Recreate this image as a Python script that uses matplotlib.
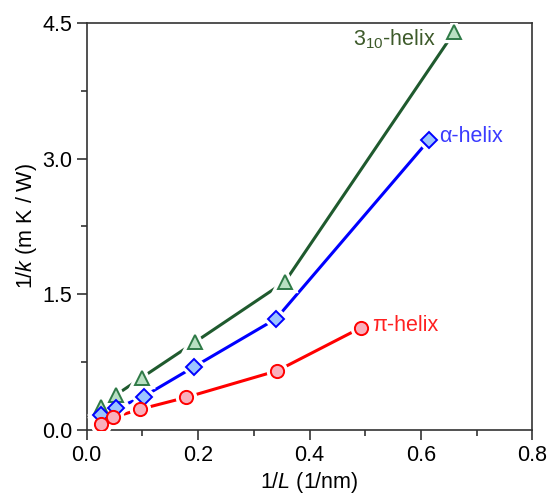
import matplotlib
matplotlib.use("Agg")
import matplotlib.pyplot as plt
from matplotlib.ticker import MultipleLocator

plt.rcParams['font.family'] = ['Liberation Sans', 'DejaVu Sans']
plt.rcParams['mathtext.fontset'] = 'custom'
plt.rcParams['mathtext.rm'] = 'Liberation Sans'
plt.rcParams['mathtext.it'] = 'Liberation Sans:italic'

# 3_10-helix
x_310 = [0.025, 0.053, 0.099, 0.194, 0.356, 0.660]
y_310 = [0.25, 0.39, 0.58, 0.97, 1.64, 4.40]
# alpha-helix
x_alpha = [0.025, 0.053, 0.102, 0.193, 0.340, 0.615]
y_alpha = [0.17, 0.24, 0.37, 0.70, 1.23, 3.21]
# pi-helix
x_pi = [0.025, 0.048, 0.096, 0.178, 0.342, 0.492]
y_pi = [0.07, 0.14, 0.23, 0.36, 0.655, 1.13]

series = [
    (x_310, y_310, '^', 9.5, '#1f5a2e', '#b8e0c2', '#2f7a47'),
    (x_alpha, y_alpha, 'D', 8.5, '#0000ff', '#9cc4ff', '#0000ff'),
    (x_pi, y_pi, 'o', 9.5, '#ff0000', '#f9b0bd', '#ff0000'),
]

fig = plt.figure(figsize=(5.54, 4.96), dpi=100)
ax = fig.add_axes([0.1565, 0.133, 0.8045, 0.821])

for xs, ys, mk, ms, lc, fc, ec in series:
    ax.plot(xs, ys, '-', color=lc, lw=2.2, zorder=2)
    # white halo around markers gives the gap in the line
    ax.plot(xs, ys, mk, ls='none', ms=ms, mfc='white', mec='white', mew=6, zorder=3)
    ax.plot(xs, ys, mk, ls='none', ms=ms, mfc=fc, mec=ec, mew=1.4, zorder=4)

ax.text(0.478, 4.32, '3$_{10}$-helix', color='#3d5a2a', fontsize=15.5, va='center', ha='left')
ax.text(0.632, 3.24, '\u03b1-helix', color='#3b3bff', fontsize=15.5, va='center', ha='left')
ax.text(0.512, 1.15, '\u03c0-helix', color='#ff2020', fontsize=15.5, va='center', ha='left')

ax.set_xlim(0, 0.8)
ax.set_ylim(0, 4.5)
ax.xaxis.set_major_locator(MultipleLocator(0.2))
ax.xaxis.set_minor_locator(MultipleLocator(0.1))
ax.yaxis.set_minor_locator(MultipleLocator(0.75))
ax.set_xticks([0, 0.2, 0.4, 0.6, 0.8])
ax.set_xticklabels(['0.0', '0.2', '0.4', '0.6', '0.8'])
ax.set_yticks([0, 1.5, 3.0, 4.5])
ax.set_yticklabels(['0.0', '1.5', '3.0', '4.5'])

ax.tick_params(which='major', direction='out', length=7, width=1.2, labelsize=15.5, color='#333333')
ax.tick_params(which='minor', direction='out', length=4, width=1.2, color='#333333')
ax.tick_params(top=False, right=False)
for s in ax.spines.values():
    s.set_linewidth(1.2)
    s.set_color('#333333')

ax.set_xlabel('1/$\\it{L}$ (1/nm)', fontsize=15.5, labelpad=3)
ax.set_ylabel('1/$\\it{k}$ (m K / W)', fontsize=15.5, labelpad=2)

fig.savefig('out.png', dpi=100)
